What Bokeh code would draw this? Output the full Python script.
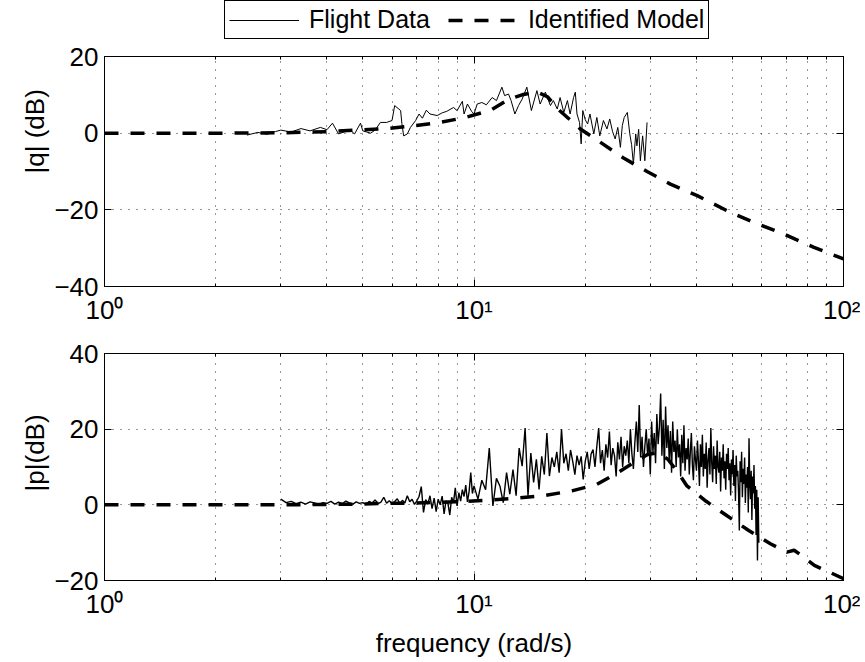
import numpy as np
from bokeh.plotting import figure
from bokeh.layouts import column
from bokeh.models import (LogAxis, LinearAxis, FixedTicker, Legend, LegendItem, Title, Range1d)
from bokeh.embed import file_html
from bokeh.resources import INLINE

FONT = "Liberation Sans"
FS = "26px"

# ---------------- data ----------------
x_major = [1, 10, 100]
x_minor = [2, 3, 4, 5, 6, 7, 8, 9, 20, 30, 40, 50, 60, 70, 80, 90]
x_labels = {1: "10\u2070", 10: "10\u00b9", 100: "10\u00b2"}

q_yticks = [-40, -20, 0, 20]
p_yticks = [-20, 0, 20, 40]

# pitch-rate response |q| : flight data
q_freq = [2.43, 2.6, 2.75, 2.9, 3.0, 3.2, 3.4, 3.6, 3.84, 4.0, 4.14, 4.3, 4.5, 4.65, 4.75, 4.93,
          5.0, 5.25, 5.4, 5.58, 5.8, 6.0, 6.1, 6.33, 6.38, 6.45, 6.6, 6.73, 6.95, 7.1, 7.25, 7.43,
          7.6, 7.95, 8.2, 8.44, 8.8, 9.0, 9.3, 9.4, 9.6, 9.85, 10.0, 10.2, 10.5, 10.8, 11.2, 11.5,
          11.9, 12.1, 12.4, 12.6, 12.9, 13.2, 13.5, 13.9, 14.3, 14.8, 15.1, 15.6, 16.1, 16.4, 16.8,
          17.1, 17.5, 17.9, 18.2, 18.6, 18.8, 19.0, 19.3, 19.5, 19.7, 20.0, 20.3, 20.6, 21.1, 21.5,
          21.9, 22.4, 22.9, 23.3, 23.7, 24.1, 24.5, 24.9, 25.2, 25.5, 26.0, 26.4, 26.7, 27.0, 27.4,
          27.6, 27.9, 28.2, 28.6, 29.0, 29.4]
q_mag = [-0.5, 0.2, -0.3, 0.4, 0.8, 0.3, 1.2, 0.6, 1.5, 0.9, 2.6, -0.2, 0.5, 0.6, -0.2, 2.6,
         0.6, 0.0, 0.8, 2.8, 2.8, 3.3, 7.2, 5.9, 2.5, -0.7, -0.2, 1.5, 3.3, 5.0, 3.9, 6.0,
         5.0, 4.6, 5.3, 5.7, 6.7, 5.9, 8.3, 5.0, 7.6, 5.7, 5.0, 7.6, 8.0, 7.4, 9.3, 8.5,
         12.0, 9.8, 10.2, 8.5, 5.0, 7.2, 8.9, 12.0, 5.9, 11.1, 7.6, 10.7, 7.2, 8.5, 6.3,
         9.3, 5.4, 8.5, 5.0, 9.3, 10.7, 5.0, 2.8, -2.8, 5.9, 3.5, 2.4, 5.0, -0.2, 4.1,
         -0.7, 3.3, 1.1, 3.7, 0.5, -1.5, 1.5, -3.7, 2.0, 4.1, 5.4, -0.2, -3.0, -8.0, -0.2,
         -3.3, 1.0, -7.2, -0.7, -7.2, 2.8]

# |q| identified model
q_model_freq = [1, 2, 3, 4, 4.78, 5.64, 6.73, 7.95, 9.39, 11.1, 12.4, 13.5, 14.8, 15.8, 17.0,
                19.4, 22.0, 25.4, 29.4, 34.0, 40.2, 49.5, 57.2, 68.9, 83.2, 100]
q_model_db = [0, 0, 0.1, 0.4, 0.8, 1.1, 1.8, 2.7, 4.0, 6.0, 8.8, 10.0, 10.8, 9.5, 6.0,
              1.1, -2.4, -6.5, -10.0, -13.3, -16.3, -20.7, -23.3, -26.3, -29.8, -32.8]

# roll-rate response |p| : flight data
p_freq = [3.0, 3.1, 3.2, 3.3, 3.4, 3.5, 3.6, 3.7, 3.8, 3.9,
          4.0, 4.1, 4.2, 4.3, 4.4, 4.5, 4.6, 4.7, 4.8, 4.9,
          5.0, 5.1, 5.2, 5.3, 5.4, 5.5, 5.6, 5.7, 5.8, 5.9,
          6.0, 6.1, 6.2, 6.3, 6.4, 6.5, 6.6, 6.7, 6.8, 6.9,
          7.0, 7.1, 7.2, 7.3, 7.4, 7.5, 7.6, 7.7, 7.8, 7.9,
          8.0, 8.1, 8.2, 8.3, 8.4, 8.5, 8.6, 8.7, 8.8, 8.9,
          9.0, 9.1, 9.2, 9.3, 9.4, 9.5, 9.6, 9.7, 9.8, 9.9,
          10.0, 10.25, 10.5, 10.75, 11.0, 11.25, 11.5, 11.75,
          12.0, 12.25, 12.5, 12.75, 13.0, 13.25, 13.5, 13.75,
          14.0, 14.25, 14.5, 14.75, 15.0, 15.25, 15.5, 15.75,
          16.0, 16.25, 16.5, 16.75, 17.0, 17.25, 17.5, 17.75,
          18.0, 18.25, 18.5, 18.75, 19.0, 19.25, 19.5, 19.75,
          20.0, 20.25, 20.5, 20.75, 21.0, 21.25, 21.5, 21.75,
          22.0, 22.25, 22.5, 22.75, 23.0, 23.25, 23.5, 23.75,
          24.0, 24.25, 24.5, 24.75, 25.0, 25.25, 25.5, 25.75,
          26.0, 26.25, 26.5, 26.75, 27.0, 27.25, 27.5, 27.75,
          28.0, 28.25, 28.5, 28.75, 29.0, 29.25, 29.5, 29.75,
          30.0, 30.25, 30.5, 30.75, 31.0, 31.25, 31.5, 31.75,
          32.0, 32.25, 32.5, 32.75, 33.0, 33.25, 33.5, 33.75,
          34.0, 34.25, 34.5, 34.75, 35.0, 35.25, 35.5, 35.75,
          36.0, 36.25, 36.5, 36.75, 37.0, 37.25, 37.5, 37.75,
          38.0, 38.25, 38.5, 38.75, 39.0, 39.25, 39.5, 39.75,
          40.0, 40.25, 40.5, 40.75, 41.0, 41.25, 41.5, 41.75,
          42.0, 42.25, 42.5, 42.75, 43.0, 43.25, 43.5, 43.75,
          44.0, 44.25, 44.5, 44.75, 45.0, 45.25, 45.5, 45.75,
          46.0, 46.25, 46.5, 46.75, 47.0, 47.25, 47.5, 47.75,
          48.0, 48.25, 48.5, 48.75, 49.0, 49.25, 49.5, 49.75,
          50.0, 50.25, 50.5, 50.75, 51.0, 51.25, 51.5, 51.75,
          52.0, 52.25, 52.5, 52.75, 53.0, 53.25, 53.5, 53.75,
          54.0, 54.25, 54.5, 54.75, 55.0, 55.25, 55.5, 55.75,
          56.0, 56.25, 56.5, 56.75, 57.0, 57.25, 57.5, 57.75,
          58.0, 58.25, 58.5, 58.75, 59.0]
p_mag = [1.5, 0.6, 0.9, 0.3, 0.7, 0.2, 0.8, 0.5, 0.1, 0.6,
         0.4, 0.9, 0.2, 0.7, 0.3, 1.0, 0.5, 0.2, 0.8, 0.4,
         0.6, 0.1, 0.9, 0.5, 1.3, 0.3, 0.7, 2.0, 0.4, 1.1,
         0.2, 0.9, 1.6, 0.3, 1.2, 0.5, 2.4, 0.8, 1.5, 0.1,
         1.0, 2.2, 4.8, -2.0, 1.4, 0.2, 2.4, -1.0, 1.8, -1.8,
         1.5, 0.0, 2.3, -2.4, 1.1, 0.4, -2.7, 2.0, 0.6, 4.5,
         -0.3, 3.2, 1.0, 4.0, 2.2, 5.2, 0.8, 3.5, 8.5, 3.0,
         5.0, 1.5, 6.5, 4.0, 15.0, -0.3, 7.0, 5.0,
         0.6, 8.5, 2.8, 9.3, 2.4, 15.0, 10.2, 20.3,
         2.4, 13.7, 5.9, 12.0, 4.1, 12.8, 8.0, 19.0,
         7.6, 12.5, 10.0, 14.0, 8.5, 20.0, 11.0, 13.5,
         9.0, 14.5, 11.5, 8.0, 13.0, 10.5, 12.8, 6.7,
         11.5, 14.0, 9.5, 13.5, 14.6, 10.0, 15.5, 20.3,
         11.0, 14.5, 9.0, 16.0, 12.5, 19.4, 10.5, 15.0,
         13.0, 7.5, 16.5, 12.0, 18.0, 10.0, 15.5, 13.0,
         17.0, 11.0, 20.0, 13.5, 9.5, 16.5, 22.0, 14.0,
         26.4, 12.5, 18.0, 10.0, 15.5, 20.0, 13.0, 17.5,
         8.0, 22.0, 14.0, 19.0, 11.0, 24.0, 16.0, 20.5,
         29.4, 13.0, 22.5, 9.5, 26.0, 15.0, 21.0, 12.0,
         19.5, 8.5, 22.0, 14.0, 17.0, 10.0, 20.0, 12.5,
         16.0, 7.5, 18.5, 11.0, 21.0, 9.0, 15.0, 12.0,
         17.5, 8.0, 14.0, 19.0, 10.5, 6.5, 15.5, 12.0,
         9.0, 17.0, 11.5, 5.0, 16.0, 10.0, 18.5, 7.5,
         13.5, 9.5, 16.5, 4.5, 12.0, 15.0, 8.0, 20.3,
         11.0, 6.0, 15.5, 9.5, 13.0, 5.5, 17.0, 10.0,
         8.5, 14.0, 3.5, 12.5, 9.0, 16.0, 7.0, 11.5,
         4.0, 13.5, 9.5, 15.0, 6.5, 11.0, 2.5, 12.0,
         8.0, 14.5, 5.0, 10.5, 1.0, 13.0, 7.5, 9.0,
         3.0, -6.8, 11.5, 6.0, 14.0, 2.0, 9.5, 5.5,
         12.5, 0.5, 8.0, 4.5, 10.0, -2.0, 17.6, 6.0,
         1.5, 9.0, -4.0, 7.5, 3.0, 10.5, -1.0, 5.0,
         -8.0, 4.0, -14.7, 2.0, -10.0]

# |p| identified model
p_model_freq = [1, 3, 5, 5.76, 6.6, 9.4, 11.1, 13.1, 15.6, 18.4, 21.5, 24.6, 27.4, 29.5, 31.5,
                33.5, 35.5, 37.7, 42.4, 48.4, 55.4, 63.4, 70.3, 73.5, 76.5, 83.4, 100]
p_model_db = [0, 0, 0.2, 0.4, 0.4, 0.9, 1.3, 1.8, 2.5, 3.7, 5.4, 8.6, 11.5, 13.3, 13.8,
              12.0, 8.8, 5.0, 1.0, -2.9, -6.8, -10.3, -12.5, -12.0, -13.2, -16.0, -19.5]

legend_labels = ["Flight Data", "Identified Model"]


def pair(a, b):
    n = min(len(a), len(b))
    return list(a[:n]), list(b[:n])


def style(p, yticks):
    xt = FixedTicker(ticks=x_major, minor_ticks=x_minor)
    yt = FixedTicker(ticks=yticks)
    p.outline_line_color = "black"
    p.outline_line_width = 1
    p.background_fill_color = "white"
    p.border_fill_color = "white"
    yover = {v: (("\u2212" + str(abs(v))) if v < 0 else str(v)) for v in yticks}
    bottom = p.below[0]
    left = p.left[0]
    bottom.ticker = xt
    bottom.major_label_overrides = x_labels
    bottom.major_label_standoff = 8
    left.ticker = yt
    left.major_label_overrides = yover
    left.major_label_standoff = 6
    left.minor_tick_line_color = None
    top = LogAxis(ticker=xt, major_label_text_color=None, major_label_text_font_size="2px",
                  major_label_standoff=0)
    right = LinearAxis(ticker=yt, major_label_text_color=None, major_label_text_font_size="2px",
                       major_label_standoff=0, minor_tick_line_color=None)
    p.add_layout(top, "above")
    p.add_layout(right, "right")
    for ax in [bottom, left, top, right]:
        ax.axis_line_color = "black"
        ax.major_tick_in = 7
        ax.major_tick_out = 0
        ax.minor_tick_in = 3
        ax.minor_tick_out = 0
        ax.major_tick_line_color = "black"
        ax.major_label_text_font = FONT
    for ax in [bottom, left]:
        ax.major_label_text_font_size = FS
        ax.major_label_text_color = "black"
    for ax in [top, bottom]:
        ax.minor_tick_line_color = "black"
    p.xgrid.ticker = xt
    p.ygrid.ticker = yt
    p.xgrid.grid_line_color = "black"
    p.xgrid.grid_line_dash = "1 7"
    p.xgrid.grid_line_alpha = 0.8
    p.xgrid.minor_grid_line_color = "black"
    p.xgrid.minor_grid_line_dash = "1 7"
    p.xgrid.minor_grid_line_alpha = 0.8
    p.ygrid.grid_line_color = "black"
    p.ygrid.grid_line_dash = "1 7"
    p.ygrid.grid_line_alpha = 0.8
    return bottom


def ylabel(p, text, offset):
    t = Title(text=text, align="left", offset=offset, text_font=FONT, text_font_size=FS,
              text_font_style="normal", text_color="black", standoff=4)
    p.add_layout(t, "left")


# ---------- legend strip (own small canvas above the top panel) ----------
p0 = figure(width=860, height=39, x_axis_type="log", x_range=(1, 100),
            y_range=Range1d(1000, 1001), output_backend="svg", toolbar_location=None,
            x_axis_location=None, y_axis_location=None, min_border=0)
p0.outline_line_color = None
p0.grid.visible = False
p0.border_fill_color = "white"
l_data = p0.line(q_freq, q_mag, line_color="black", line_width=1)
l_model = p0.line(q_model_freq, q_model_db, line_color="black", line_width=3.5, line_dash="14 12")
legend = Legend(items=[LegendItem(label=legend_labels[0], renderers=[l_data]),
                       LegendItem(label=legend_labels[1], renderers=[l_model])],
                orientation="horizontal", location=(120, 0), margin=0, padding=4,
                spacing=18, glyph_width=70, glyph_height=20, label_standoff=10,
                label_text_font=FONT, label_text_font_size="25px", label_text_color="black",
                border_line_color="black", border_line_width=1, border_line_alpha=1.0,
                background_fill_color="white", background_fill_alpha=1.0)
p0.add_layout(legend)

# ---------- top panel ----------
p1 = figure(width=860, height=291, x_axis_type="log", x_range=(1, 100), y_range=(-40, 20),
            output_backend="svg", toolbar_location=None,
            min_border_left=104, min_border_right=17, min_border_top=17, min_border_bottom=44)
style(p1, q_yticks)
qf, qm = pair(q_freq, q_mag)
p1.line(qf, qm, line_color="black", line_width=1)
p1.line(q_model_freq, q_model_db, line_color="black", line_width=3.5, line_dash="14 12")
ylabel(p1, "|q| (dB)", 113)

# ---------- bottom panel ----------
p2 = figure(width=860, height=330, x_axis_type="log", x_range=(1, 100), y_range=(-20, 40),
            output_backend="svg", toolbar_location=None,
            min_border_left=104, min_border_right=17, min_border_top=23, min_border_bottom=78)
bx = style(p2, p_yticks)
pf, pm = pair(p_freq, p_mag)
p2.line(pf, pm, line_color="black", line_width=1.4)
p2.line(p_model_freq, p_model_db, line_color="black", line_width=3.5, line_dash="14 12")
ylabel(p2, "|p|(dB)", 89)
bx.axis_label = "frequency (rad/s)"
bx.axis_label_text_font = FONT
bx.axis_label_text_font_size = FS
bx.axis_label_text_font_style = "normal"
bx.axis_label_text_color = "black"
bx.axis_label_standoff = 6

layout = column(p0, p1, p2)
open("out.html", "w").write(file_html(layout, INLINE))
